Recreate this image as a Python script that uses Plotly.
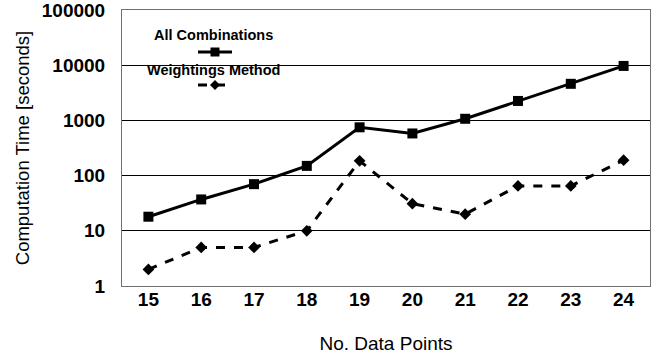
import plotly.graph_objects as go

# Number of data points and computation times (seconds)
data_points = ["15", "16", "17", "18", "19", "20", "21", "22", "23", "24"]
all_combinations = [18, 37, 70, 150, 750, 580, 1070, 2250, 4600, 9700]
weightings_method = [2, 5, 5, 10, 185, 31, 20, 65, 65, 190]
y_tick_values = [1, 10, 100, 1000, 10000, 100000]
y_tick_labels = ["1", "10", "100", "1000", "10000", "100000"]

FONT = "Liberation Sans, Arial, sans-serif"

fig = go.Figure()
fig.add_trace(go.Scatter(
    x=data_points, y=all_combinations, mode="lines+markers",
    name="All Combinations",
    line=dict(color="black", width=3),
    marker=dict(symbol="square", size=10, color="black"),
))
fig.add_trace(go.Scatter(
    x=data_points, y=weightings_method, mode="lines+markers",
    name="Weightings Method",
    line=dict(color="black", width=3, dash="dash"),
    marker=dict(symbol="diamond", size=9, color="black"),
))

# Legend drawn inside the plot: label above each line sample
W, H = 528.0, 276.0
def px(x):
    return (x - 122) / W
def py(y):
    return (286 - y) / H

shapes = []
annotations = []
for label, ly, sy, dash, sym in [
    ("All Combinations", 35, 52, "solid", "square"),
    ("Weightings Method", 70, 85, "dash", "diamond"),
]:
    annotations.append(dict(
        text=f"<b>{label}</b>", x=px(213), y=py(ly), xref="paper", yref="paper",
        showarrow=False, font=dict(family=FONT, size=14.5, color="black"),
        xanchor="center", yanchor="middle",
    ))
    shapes.append(dict(
        type="line", xref="paper", yref="paper",
        x0=px(198), x1=px(232), y0=py(sy), y1=py(sy),
        line=dict(color="black", width=3, dash="dash" if dash == "dash" else "solid"),
    ))
    if sym == "square":
        shapes.append(dict(
            type="rect", xref="paper", yref="paper",
            x0=px(210.5), x1=px(219.5), y0=py(56.5), y1=py(47.5),
            fillcolor="black", line=dict(width=0),
        ))
    else:
        cx, cy = 215, sy
        shapes.append(dict(
            type="path", xref="paper", yref="paper",
            path=(f"M {px(cx-5)} {py(cy)} L {px(cx)} {py(cy-5)} "
                  f"L {px(cx+5)} {py(cy)} L {px(cx)} {py(cy+5)} Z"),
            fillcolor="black", line=dict(width=0),
        ))

fig.update_layout(
    width=666, height=360,
    margin=dict(l=122, r=16, t=10, b=74),
    paper_bgcolor="white", plot_bgcolor="white",
    showlegend=False,
    font=dict(family=FONT, color="black"),
    shapes=shapes, annotations=annotations,
)
fig.update_xaxes(
    type="category", range=[-0.5, 9.5], automargin=False,
    showgrid=False, showline=True, mirror=True, linecolor="#707070", linewidth=1,
    ticks="", tickfont=dict(family=FONT, size=19, color="black", weight="bold"),
    ticklabelstandoff=-4, ticklabeloverflow="allow",
    title=dict(text="No. Data Points", font=dict(family=FONT, size=19, color="black"), standoff=27),
)
fig.update_yaxes(
    type="log", range=[0, 5], automargin=False,
    tickvals=y_tick_values, ticktext=y_tick_labels,
    showgrid=True, gridcolor="black", gridwidth=1,
    showline=True, mirror=True, linecolor="#707070", linewidth=1,
    ticks="", tickfont=dict(family=FONT, size=19, color="black", weight="bold"),
    ticklabelstandoff=12, ticklabeloverflow="allow",
    title=dict(text="Computation Time [seconds]", font=dict(family=FONT, size=18.5, color="black"), standoff=7),
)

fig.write_html("out.html")
